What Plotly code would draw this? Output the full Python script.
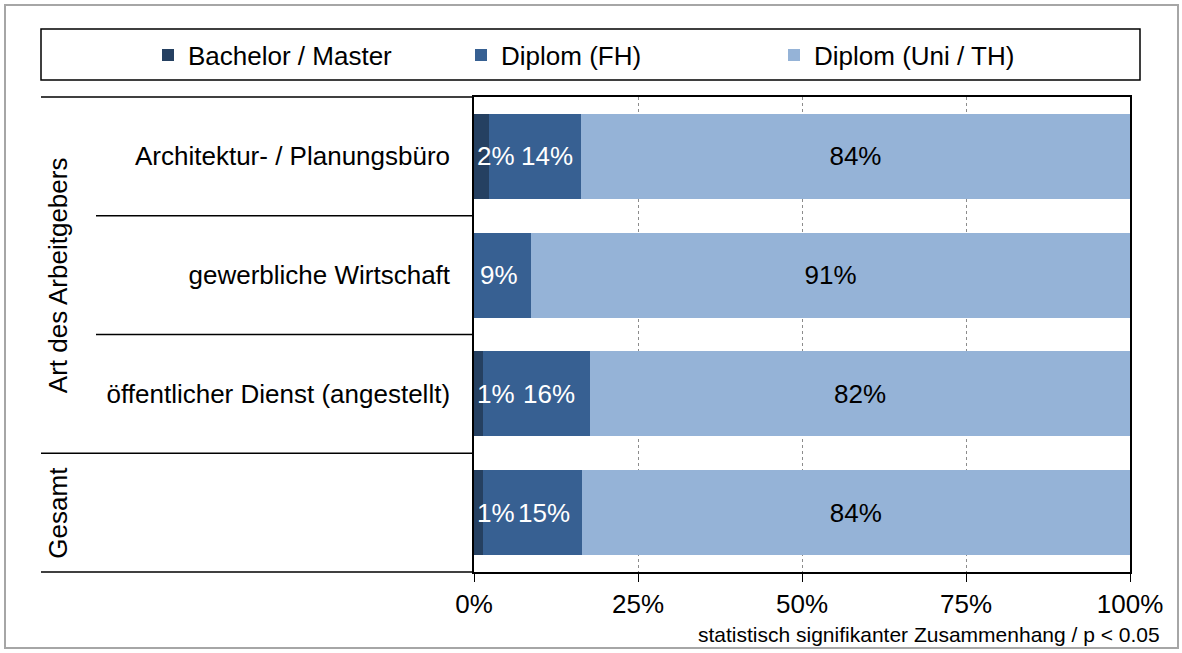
import plotly.graph_objects as go

categories = ["Architektur- / Planungsbüro", "gewerbliche Wirtschaft",
              "öffentlicher Dienst (angestellt)", "Gesamt"]
tick_labels = ["Architektur- / Planungsbüro", "gewerbliche Wirtschaft",
               "öffentlicher Dienst (angestellt)", ""]
bachelor_master = [2.3, 0.0, 1.4, 1.4]
diplom_fh = [14.0, 8.7, 16.3, 15.0]
diplom_uni = [83.7, 91.3, 82.3, 83.6]
series_names = ["Bachelor / Master", "Diplom (FH)", "Diplom (Uni / TH)"]
x_ticks = [0, 25, 50, 75, 100]
x_tick_labels = ["0%", "25%", "50%", "75%", "100%"]
group_labels = ["Art des Arbeitgebers", "Gesamt"]
footnote = "statistisch signifikanter Zusammenhang / p < 0.05"

FONT = "Liberation Sans, Arial, sans-serif"
W, H = 1182, 653
L, R, T, B = 474, 52, 97, 81
PW, PH = W - L - R, H - T - B


def px_x(p):
    return (p - L) / PW


def px_y(p):
    return (H - B - p) / PH


def pct(v):
    return f"{v:.0f}%" if v > 0 else ""


colors = ["#254061", "#376092", "#95B3D7"]

fig = go.Figure()
# Bachelor / Master and Diplom (FH): labels added as annotations below
for name, vals, c in zip(series_names[:2], [bachelor_master, diplom_fh], colors[:2]):
    fig.add_trace(go.Bar(
        name=name, y=categories, x=vals, orientation="h",
        marker=dict(color=c, line=dict(width=0)),
        textposition="none", hoverinfo="skip",
    ))
fig.add_trace(go.Bar(
    name=series_names[2], y=categories, x=diplom_uni, orientation="h",
    marker=dict(color=colors[2], line=dict(width=0)),
    text=[pct(v) for v in diplom_uni], textposition="inside", insidetextanchor="middle",
    textangle=0, constraintext="none",
    textfont=dict(family=FONT, size=26, color="black"),
    hoverinfo="skip",
))

shapes = []
# outer frame
shapes.append(dict(type="rect", xref="paper", yref="paper",
                   x0=px_x(5), x1=px_x(1178), y0=px_y(648), y1=px_y(5),
                   line=dict(color="#A6A6A6", width=2), layer="below"))
# legend frame
shapes.append(dict(type="rect", xref="paper", yref="paper",
                   x0=px_x(41), x1=px_x(1140), y0=px_y(80), y1=px_y(29),
                   line=dict(color="black", width=1.5)))
# table lines on the left
for yy, x_start in [(1.0, 41), (0.75, 96), (0.5, 96), (0.25, 41), (0.0, 41)]:
    shapes.append(dict(type="line", xref="paper", yref="paper",
                       x0=px_x(x_start), x1=0, y0=yy, y1=yy,
                       line=dict(color="black", width=1.5)))

annotations = [
    dict(text=group_labels[0], xref="paper", yref="paper", x=px_x(58), y=0.625,
         textangle=-90, showarrow=False, font=dict(family=FONT, size=26, color="black"),
         xanchor="center", yanchor="middle"),
    dict(text=group_labels[1], xref="paper", yref="paper", x=px_x(58), y=0.125,
         textangle=-90, showarrow=False, font=dict(family=FONT, size=26, color="black"),
         xanchor="center", yanchor="middle"),
    dict(text=footnote, xref="paper", yref="paper", x=px_x(1162), y=px_y(634),
         showarrow=False, font=dict(family=FONT, size=21, color="black"),
         xanchor="right", yanchor="middle"),
]

# value labels for the two narrow segments, placed from the data
for cat, bm, fh in zip(categories, bachelor_master, diplom_fh):
    if bm > 0:
        annotations.append(dict(text=pct(bm), x=0, y=cat, xref="x", yref="y",
                                xanchor="left", yanchor="middle", xshift=1,
                                showarrow=False,
                                font=dict(family=FONT, size=26, color="white")))
    annotations.append(dict(text=pct(fh), x=bm + fh / 2, y=cat, xref="x", yref="y",
                            xanchor="center", yanchor="middle",
                            xshift=12 if bm > 0 else -4, showarrow=False,
                            font=dict(family=FONT, size=26, color="white")))

fig.update_layout(
    width=W, height=H,
    margin=dict(l=L, r=R, t=T, b=B, autoexpand=False),
    barmode="stack", bargap=0.284,
    paper_bgcolor="white", plot_bgcolor="white",
    font=dict(family=FONT, size=26, color="black"),
    showlegend=True,
    legend=dict(orientation="h", x=px_x(148), y=px_y(55), xanchor="left", yanchor="middle",
                font=dict(family=FONT, size=26, color="black"),
                entrywidth=268, entrywidthmode="pixels", itemwidth=30,
                bgcolor="rgba(0,0,0,0)", borderwidth=0, traceorder="normal"),
    xaxis=dict(range=[0, 100], tickmode="array", tickvals=x_ticks, ticktext=x_tick_labels,
               showgrid=True, gridcolor="#8C8C8C", griddash="dot", gridwidth=1,
               showline=True, linecolor="black", linewidth=1.5, mirror=True,
               ticks="outside", ticklen=8, tickcolor="black",
               tickfont=dict(family=FONT, size=26, color="black"),
               zeroline=False, fixedrange=True),
    yaxis=dict(categoryorder="array", categoryarray=categories, autorange="reversed",
               tickmode="array", tickvals=categories, ticktext=tick_labels,
               showline=True, linecolor="black", linewidth=1.5, mirror=True,
               ticks="", ticklabelstandoff=17,
               tickfont=dict(family=FONT, size=26, color="black"),
               showgrid=False, zeroline=False, fixedrange=True),
    shapes=shapes, annotations=annotations,
)

fig.write_html("out.html", config={"displayModeBar": False},
               post_script="document.body.style.margin='0px';")
